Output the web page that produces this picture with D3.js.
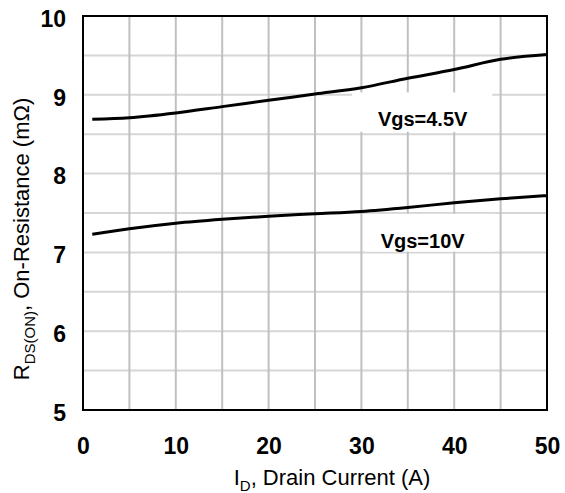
<!DOCTYPE html>
<html>
<head>
<meta charset="utf-8">
<script src="https://cdn.jsdelivr.net/npm/d3@7"></script>
<style>
  body { margin: 0; background: #fff; }
  svg { display: block; font-family: "Liberation Sans", Arial, sans-serif; }
</style>
</head>
<body>
<div id="chart"></div>
<script>
// drain current (A) and on-resistance (mOhm)
const current = [1, 5, 10, 15, 20, 25, 30, 35, 40, 45, 50];
const rdsVgs45 = [8.69, 8.71, 8.77, 8.85, 8.93, 9.01, 9.09, 9.21, 9.32, 9.45, 9.51];
const rdsVgs10 = [7.23, 7.30, 7.37, 7.42, 7.46, 7.49, 7.52, 7.57, 7.63, 7.68, 7.72];
const seriesNames = ["Vgs=4.5V", "Vgs=10V"];
const xTicks = [0, 10, 20, 30, 40, 50];
const yTicks = [5, 6, 7, 8, 9, 10];

const margin = { top: 16, right: 18, bottom: 83, left: 83 };
const width = 565 - margin.left - margin.right;
const height = 493 - margin.top - margin.bottom;

const x = d3.scaleLinear().domain([0, 50]).range([0, width]);
const y = d3.scaleLinear().domain([5, 10]).range([height, 0]);

const svg = d3.select("#chart")
  .append("svg")
    .attr("width", 565)
    .attr("height", 493)
  .append("g")
    .attr("transform", `translate(${margin.left}, ${margin.top})`);

// grid
svg.selectAll(".ygrid")
  .data(d3.range(5.5, 10, 0.5))
  .join("line")
  .attr("x1", 0).attr("x2", width)
  .attr("y1", d => y(d)).attr("y2", d => y(d))
  .attr("stroke", "#d6d6d6")
  .attr("stroke-width", 2);

svg.selectAll(".xgrid")
  .data(d3.range(5, 50, 5))
  .join("line")
  .attr("x1", d => x(d)).attr("x2", d => x(d))
  .attr("y1", 0).attr("y2", height)
  .attr("stroke", "#c0c0c0")
  .attr("stroke-width", 2);

// label boxes hide the grid behind the text
const labels = [
  { name: seriesNames[0], x0: 29, x1: 44.1, y0: 9.03, y1: 8.53, tx: 36.6, ty: 8.61 },
  { name: seriesNames[1], x0: 30.4, x1: 44.4, y0: 7.49, y1: 7.01, tx: 36.6, ty: 7.05 }
];

svg.selectAll(".labelbox")
  .data(labels)
  .join("rect")
  .attr("x", d => x(d.x0))
  .attr("y", d => y(d.y0))
  .attr("width", d => x(d.x1) - x(d.x0))
  .attr("height", d => y(d.y1) - y(d.y0))
  .attr("fill", "#fff");

svg.selectAll(".labeltext")
  .data(labels)
  .join("text")
  .attr("x", d => x(d.tx))
  .attr("y", d => y(d.ty))
  .attr("text-anchor", "middle")
  .style("font-size", "20px")
  .style("font-weight", "bold")
  .text(d => d.name);

// curves
const line = d3.line()
  .x((d, i) => x(current[i]))
  .y(d => y(d))
  .curve(d3.curveMonotoneX);

[rdsVgs45, rdsVgs10].forEach(s => {
  svg.append("path")
    .datum(s)
    .attr("fill", "none")
    .attr("stroke", "#000")
    .attr("stroke-width", 3)
    .attr("d", line);
});

// frame
svg.append("rect")
  .attr("width", width)
  .attr("height", height)
  .attr("fill", "none")
  .attr("stroke", "#000")
  .attr("stroke-width", 2);

// axes
svg.append("g")
  .attr("transform", `translate(0, ${height})`)
  .call(d3.axisBottom(x).tickValues(xTicks).tickFormat(d3.format("d")).tickSize(0).tickPadding(28))
  .call(g => g.select(".domain").remove())
  .selectAll(".tick text")
  .attr("fill", "#000")
  .style("font-family", "'Liberation Sans', Arial, sans-serif")
  .style("font-size", "23px")
  .style("font-weight", "bold");

svg.append("g")
  .call(d3.axisLeft(y).tickValues(yTicks).tickFormat(d3.format("d")).tickSize(0).tickPadding(17))
  .call(g => g.select(".domain").remove())
  .selectAll(".tick text")
  .attr("fill", "#000")
  .attr("dy", "0.45em")
  .style("font-family", "'Liberation Sans', Arial, sans-serif")
  .style("font-size", "23px")
  .style("font-weight", "bold");

// axis titles
const xTitle = svg.append("text")
  .attr("x", 249)
  .attr("y", height + 75)
  .attr("text-anchor", "middle")
  .style("font-size", "22px");
xTitle.append("tspan").text("I");
xTitle.append("tspan").attr("dy", 6).style("font-size", "15px").text("D");
xTitle.append("tspan").attr("dy", -6).text(", Drain Current (A)");

const yTitle = svg.append("text")
  .attr("transform", "rotate(-90)")
  .attr("x", -(223))
  .attr("y", 29 - margin.left)
  .attr("text-anchor", "middle")
  .style("font-size", "22px");
yTitle.append("tspan").text("R");
yTitle.append("tspan").attr("dy", 6).style("font-size", "15px").text("DS(ON)");
yTitle.append("tspan").attr("dy", -6).text(", On-Resistance (mΩ)");
</script>
</body>
</html>
